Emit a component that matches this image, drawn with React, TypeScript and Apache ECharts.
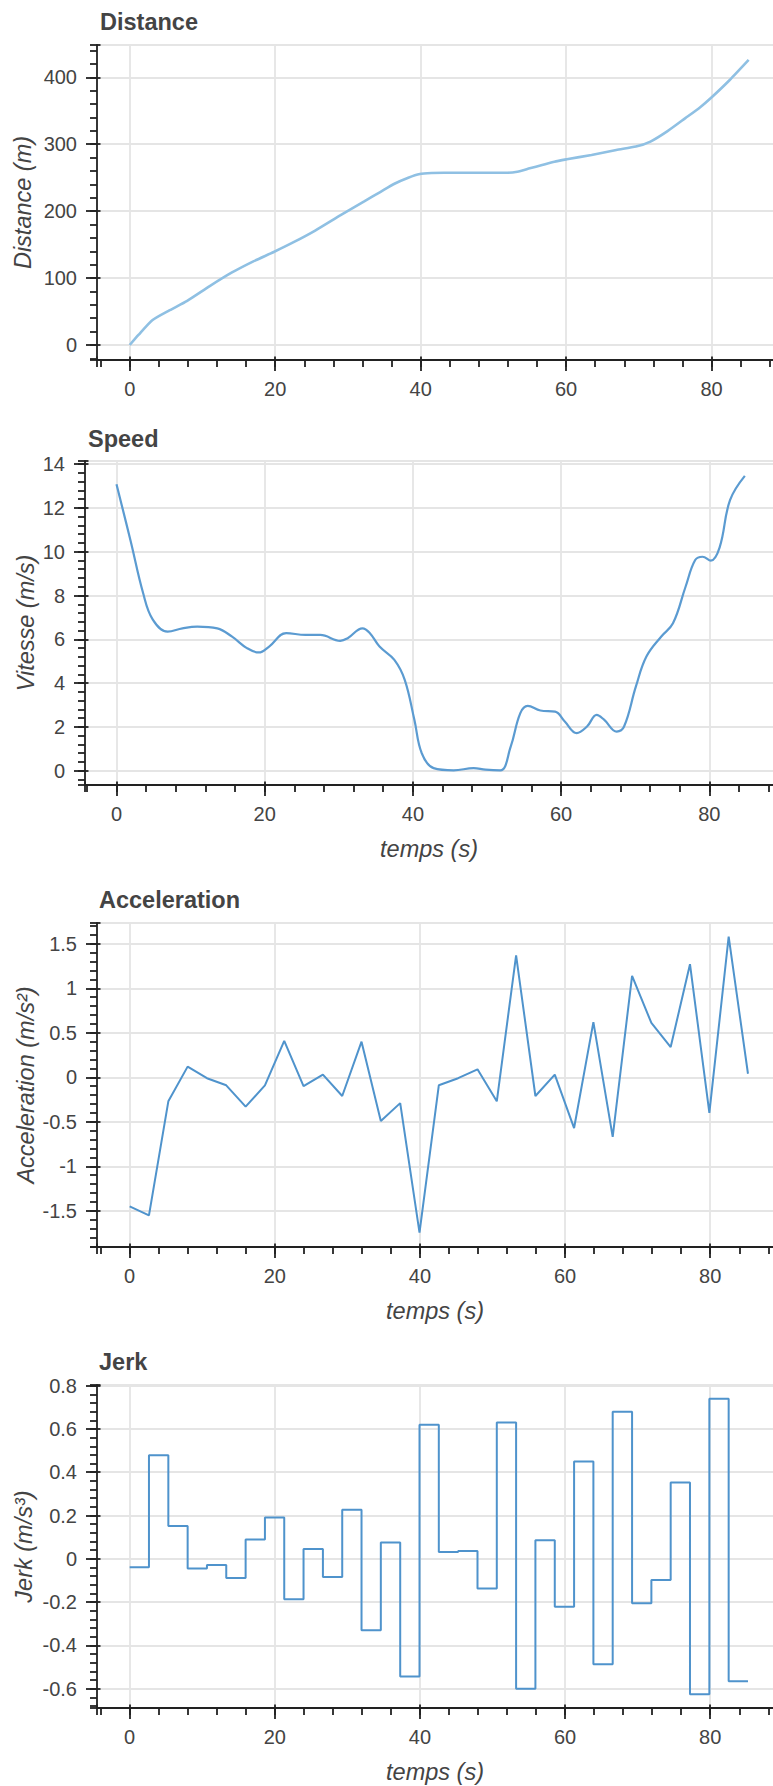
import React, { useEffect, useRef } from "react";
import * as echarts from "echarts";

// ---------- data ----------
const distanceTime = [0, 1.2, 3.1, 5.5, 7.9, 11.0, 14.0, 17.0, 19.8, 22.6, 25.5, 29.0, 32.3, 34.5, 36.4, 38.3, 39.9, 41.5, 43.2, 46.5, 49.9, 52.0, 53.3, 55.0, 56.7, 58.4, 60.1, 63.5, 66.9, 69.6, 71.6, 74.0, 76.4, 78.4, 80.1, 82.5, 85.1];
const distanceValues = [0, 15, 37, 52, 66, 88, 108, 125, 139, 154, 171, 194, 215, 229, 241, 250, 255.5, 257, 257.5, 257.5, 257.5, 257.5, 259, 264, 269, 274, 277.5, 284, 291.5, 296.5, 304, 320, 339, 355, 371, 396, 426];

const speedTime = [0, 1.9, 3.6, 4.9, 6.9, 8.9, 10.9, 13.6, 15.6, 17.6, 19.2, 20.6, 22.9, 25.5, 27.5, 30.2, 31.2, 33.2, 34.2, 35.5, 37.5, 38.9, 40.2, 41.2, 42.8, 45.5, 48.2, 49.8, 51.8, 53.2, 54.5, 55.5, 57.2, 59.2, 60.5, 62.1, 63.5, 64.8, 65.8, 67.5, 68.5, 70.1, 71.5, 73.5, 75.1, 76.8, 78.1, 79.1, 80.2, 81.4, 82.8, 84.8];
const speedValues = [13.08, 10.5, 8.1, 6.9, 6.35, 6.5, 6.58, 6.5, 6.12, 5.6, 5.4, 5.67, 6.28, 6.2, 6.2, 5.93, 6.05, 6.5, 6.28, 5.67, 5.06, 4.15, 2.33, 0.8, 0.12, 0.02, 0.12, 0.05, 0.02, 1.1, 2.63, 2.96, 2.75, 2.7, 2.25, 1.72, 2.02, 2.55, 2.33, 1.79, 2.02, 3.85, 5.2, 6.12, 6.73, 8.4, 9.62, 9.77, 9.59, 10.2, 12.35, 13.46];

const accTime = [0, 2.66, 5.33, 7.99, 10.65, 13.31, 15.98, 18.64, 21.3, 23.96, 26.63, 29.29, 31.95, 34.61, 37.28, 39.94, 42.6, 45.26, 47.93, 50.59, 53.25, 55.91, 58.58, 61.24, 63.9, 66.56, 69.23, 71.89, 74.55, 77.21, 79.88, 82.54, 85.2];
const accValues = [-1.45, -1.55, -0.27, 0.12, -0.01, -0.09, -0.33, -0.09, 0.41, -0.1, 0.03, -0.21, 0.4, -0.49, -0.29, -1.745, -0.09, -0.01, 0.09, -0.27, 1.37, -0.21, 0.03, -0.57, 0.62, -0.67, 1.14, 0.61, 0.34, 1.27, -0.4, 1.58, 0.04];

const jerkTime = [0, 2.66, 5.33, 7.99, 10.65, 13.31, 15.98, 18.64, 21.3, 23.96, 26.63, 29.29, 31.95, 34.61, 37.28, 39.94, 42.6, 45.26, 47.93, 50.59, 53.25, 55.91, 58.58, 61.24, 63.9, 66.56, 69.23, 71.89, 74.55, 77.21, 79.88, 82.54, 85.2];
const jerkValues = [-0.039, 0.478, 0.152, -0.045, -0.029, -0.089, 0.089, 0.191, -0.187, 0.045, -0.084, 0.227, -0.33, 0.075, -0.544, 0.619, 0.032, 0.036, -0.137, 0.63, -0.6, 0.086, -0.221, 0.45, -0.487, 0.68, -0.205, -0.098, 0.353, -0.625, 0.74, -0.566, -0.566];

const chartTitles = ["Distance", "Speed", "Acceleration", "Jerk"];
const yAxisNames = ["Distance (m)", "Vitesse (m/s)", "Acceleration (m/s²)", "Jerk (m/s³)"];
const xAxisName = "temps (s)";

// ---------- layout ----------
const FONT = "'Liberation Sans', Arial, Helvetica, sans-serif";
const AXIS_COLOR = "#222";
const LABEL_COLOR = "#444";

type Panel = {
  left: number; top: number; width: number; height: number;
  xMin: number; xMax: number; yMin: number; yMax: number;
  yMajor: number; yMinor: number; xName: boolean;
  titleX: number; titleY: number; yNameX: number;
};

const panels: Panel[] = [
  { left: 97, top: 45, width: 680, height: 315, xMin: -4.5, xMax: 89.0, yMin: -22.4, yMax: 448.3, yMajor: 100, yMinor: 20, xName: false, titleX: 100, titleY: 22, yNameX: 23 },
  { left: 85, top: 461, width: 692, height: 324, xMin: -4.25, xMax: 89.14, yMin: -0.65, yMax: 14.14, yMajor: 2, yMinor: 0.4, xName: true, titleX: 88, titleY: 439, yNameX: 26 },
  { left: 97, top: 923, width: 680, height: 324, xMin: -4.5, xMax: 89.2, yMin: -1.906, yMax: 1.733, yMajor: 0.5, yMinor: 0.1, xName: true, titleX: 99, titleY: 900, yNameX: 26 },
  { left: 97, top: 1385, width: 680, height: 323, xMin: -4.5, xMax: 89.2, yMin: -0.689, yMax: 0.803, yMajor: 0.2, yMinor: 0.04, xName: true, titleX: 99, titleY: 1362, yNameX: 24 },
];

function axis(dim: "x" | "y", gridIndex: number, min: number, max: number, step: number, kind: "major" | "minor" | "inner") {
  const isMajor = kind === "major";
  return {
    type: "value",
    gridIndex,
    position: dim === "x" ? "bottom" : "left",
    min,
    max,
    minInterval: step,
    maxInterval: step,
    splitNumber: 5,
    scale: true,
    axisLine: { show: isMajor, onZero: false, lineStyle: { color: AXIS_COLOR, width: 1.8 } },
    axisTick: {
      show: true,
      inside: kind === "inner",
      length: kind === "major" ? 11 : kind === "minor" ? 7 : 3.5,
      lineStyle: { color: AXIS_COLOR, width: 1.8 },
    },
    minorTick: { show: false },
    axisLabel: {
      show: isMajor,
      showMinLabel: false,
      showMaxLabel: false,
      margin: dim === "x" ? 19 : 20,
      color: LABEL_COLOR,
      fontSize: 20,
      fontFamily: FONT,
    },
    splitLine: { show: isMajor, lineStyle: { color: "#e5e5e5", width: 1.8 } },
  };
}

function buildOption() {
  const grids: any[] = [];
  const xAxes: any[] = [];
  const yAxes: any[] = [];
  const graphics: any[] = [];
  const majorIndex: number[] = [];

  panels.forEach((p, i) => {
    (["major", "minor", "inner"] as const).forEach((kind) => {
      const gi = grids.length;
      grids.push({ left: p.left, top: p.top, width: p.width, height: p.height, containLabel: false, outerBoundsMode: "none", show: false });
      xAxes.push(axis("x", gi, p.xMin, p.xMax, kind === "minor" ? 4 : 20, kind));
      yAxes.push(axis("y", gi, p.yMin, p.yMax, kind === "minor" ? p.yMinor : p.yMajor, kind));
      if (kind === "major") majorIndex.push(gi);
    });

    graphics.push({
      type: "text",
      x: p.titleX,
      y: p.titleY,
      style: { text: chartTitles[i], fill: LABEL_COLOR, fontSize: 23.5, fontWeight: "bold", fontFamily: FONT, align: "left", verticalAlign: "middle" },
    });
    graphics.push({
      type: "text",
      x: p.yNameX,
      y: p.top + p.height / 2,
      rotation: Math.PI / 2,
      style: { text: yAxisNames[i], fill: LABEL_COLOR, fontSize: 23.5, fontStyle: "italic", fontFamily: FONT, align: "center", verticalAlign: "middle" },
    });
    if (p.xName) {
      graphics.push({
        type: "text",
        x: p.left + p.width / 2 - 2,
        y: p.top + p.height + 64,
        style: { text: xAxisName, fill: LABEL_COLOR, fontSize: 23.5, fontStyle: "italic", fontFamily: FONT, align: "center", verticalAlign: "middle" },
      });
    }
  });

  const zip = (xs: number[], ys: number[]) => xs.map((x, k) => [x, ys[k]]);

  const series = [
    { name: "Distance", data: zip(distanceTime, distanceValues), color: "#8fc0e3", width: 2.6, smooth: 0.2 as any, step: undefined as any },
    { name: "Speed", data: zip(speedTime, speedValues), color: "#5b9bd1", width: 2.2, smooth: 0.4 as any, step: undefined as any },
    { name: "Acceleration", data: zip(accTime, accValues), color: "#4f93cc", width: 2.0, smooth: false as any, step: undefined as any },
    { name: "Jerk", data: zip(jerkTime, jerkValues), color: "#4f93cc", width: 2.0, smooth: false as any, step: "end" },
  ].map((s, i) => ({
    type: "line",
    name: s.name,
    xAxisIndex: majorIndex[i],
    yAxisIndex: majorIndex[i],
    data: s.data,
    smooth: s.smooth,
    step: s.step,
    showSymbol: false,
    symbol: "none",
    lineStyle: { color: s.color, width: s.width },
    itemStyle: { color: s.color },
    z: 3,
  }));

  return {
    animation: false,
    backgroundColor: "#ffffff",
    grid: grids,
    xAxis: xAxes,
    yAxis: yAxes,
    series,
    graphic: graphics,
  };
}

export default function App() {
  const ref = useRef<HTMLDivElement>(null);
  useEffect(() => {
    if (!ref.current) return;
    const chart = echarts.init(ref.current, undefined, { renderer: "svg" });
    chart.setOption(buildOption() as any);
    return () => chart.dispose();
  }, []);
  return (
    <div style={{ position: "absolute", left: 0, top: 0, width: 773, height: 1786, overflow: "hidden", background: "#fff" }}>
      <div ref={ref} style={{ width: 773, height: 1786 }} />
    </div>
  );
}
